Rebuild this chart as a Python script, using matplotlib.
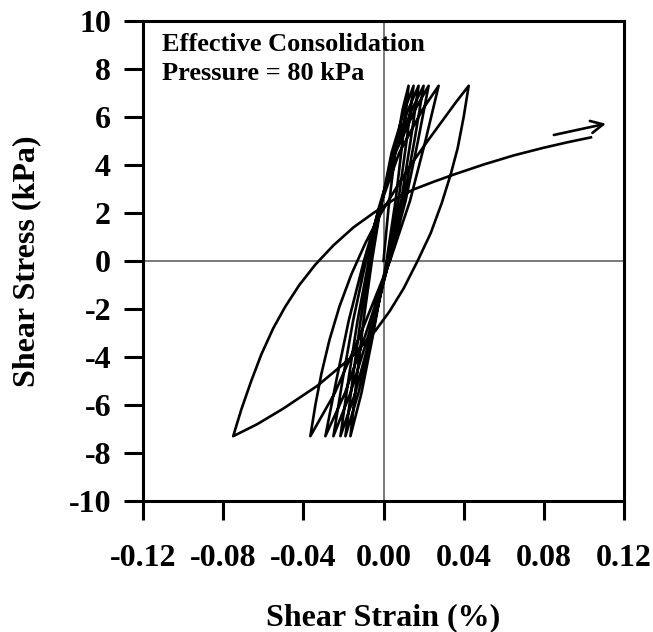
import numpy as np
import matplotlib.pyplot as plt

plt.rcParams['font.family'] = 'Liberation Serif'
plt.rcParams['font.weight'] = 'bold'
plt.rcParams['axes.unicode_minus'] = False

# stress levels (kPa) at which strains were read along each small branch
load_stress = [-7.3, -5.0, -2.5, 0.0, 2.2, 4.5, 6.3, 7.3]
unload_stress = [7.3, 5.0, 2.5, 0.0, -3.2, -5.5, -7.3]

# first loading from origin
first_stress = [0.0, 2.2, 4.5, 6.3, 7.3]
first_strain = [0.0, 0.0025, 0.0058, 0.0095, 0.0125]

# strains (%) of the small cycles
unload_strain = [
    [0.0125, 0.0095, 0.006, 0.0015, -0.0055, -0.011, -0.0165],
    [0.015, 0.0115, 0.0074, 0.0021, -0.0061, -0.0125, -0.019],
    [0.0175, 0.0135, 0.0088, 0.0027, -0.0067, -0.0141, -0.0215],
    [0.02, 0.0154, 0.0099, 0.0029, -0.0079, -0.0165, -0.025],
    [0.0225, 0.0172, 0.011, 0.003, -0.0095, -0.0192, -0.029],
    [0.0275, 0.0209, 0.0132, 0.0032, -0.0122, -0.0243, -0.0365],
]
load_strain = [
    [-0.0165, -0.0135, -0.010, -0.0058, -0.0015, 0.004, 0.0105, 0.015],
    [-0.019, -0.0155, -0.0115, -0.0066, -0.0016, 0.0048, 0.0123, 0.0175],
    [-0.0215, -0.0176, -0.013, -0.0074, -0.0017, 0.0055, 0.0141, 0.02],
    [-0.025, -0.0205, -0.0152, -0.0088, -0.0024, 0.0059, 0.0157, 0.0225],
    [-0.029, -0.0236, -0.0174, -0.0098, -0.0021, 0.0078, 0.0194, 0.0275],
]

# large cycle
big_load_strain = [-0.0365, -0.034, -0.031, -0.027, -0.022, -0.016, -0.009, -0.0015,
                   0.006, 0.014, 0.022, 0.029, 0.036, 0.0425]
big_load_stress = [-7.3, -6.0, -4.7, -3.3, -1.9, -0.55, 0.75, 1.95,
                   3.0, 4.05, 5.0, 5.8, 6.6, 7.3]
big_unload_strain = [0.0425, 0.040, 0.037, 0.0335, 0.029, 0.0235, 0.017, 0.01, 0.003,
                     -0.004, -0.0165, -0.033, -0.05, -0.063, -0.075]
big_unload_stress = [7.3, 6.0, 4.7, 3.6, 2.4, 1.15, 0.0, -1.15, -2.1,
                     -2.9, -4.05, -5.2, -6.15, -6.8, -7.3]

# last loading branch
final_strain = [-0.075, -0.071, -0.066, -0.061, -0.055, -0.049, -0.042, -0.034, -0.025,
                -0.015, -0.005, 0.005, 0.015, 0.025, 0.035, 0.05, 0.065, 0.08, 0.092, 0.1035]
final_stress = [-7.3, -6.2, -5.0, -3.9, -2.8, -1.9, -1.0, -0.15, 0.65,
                1.4, 2.0, 2.55, 2.98, 3.3, 3.6, 4.02, 4.4, 4.72, 4.95, 5.15]

arrow_start = (0.085, 5.25)
arrow_end = (0.111, 5.72)

# join everything into one path
xs = list(first_strain)
ys = list(first_stress)
for i in range(len(unload_strain)):
    xs += unload_strain[i]
    ys += unload_stress
    if i < len(load_strain):
        xs += load_strain[i]
        ys += load_stress
xs += big_load_strain + big_unload_strain + final_strain
ys += big_load_stress + big_unload_stress + final_stress

fig = plt.figure(figsize=(6.53, 6.32), dpi=100)
ax = fig.add_axes([0.219, 0.2073, 0.7366, 0.7595])

ax.axhline(0, color='#555555', lw=1.1, zorder=1)
ax.axvline(0, color='#555555', lw=1.1, zorder=1)
ax.plot(xs, ys, color='black', lw=1.9, solid_joinstyle='round', zorder=3)
ax.annotate('', xy=arrow_end, xytext=arrow_start,
            arrowprops=dict(arrowstyle='->', color='black', lw=1.9,
                            mutation_scale=22, shrinkA=0, shrinkB=0))

ax.set_xlim(-0.12, 0.12)
ax.set_ylim(-10, 10)
ax.set_xticks([-0.12, -0.08, -0.04, 0.0, 0.04, 0.08, 0.12])
ax.set_xticklabels(['-0.12', '-0.08', '-0.04', '0.00', '0.04', '0.08', '0.12'])
ax.set_yticks(range(-10, 11, 2))

for s in ax.spines.values():
    s.set_linewidth(2.2)
ax.tick_params(direction='out', length=14, width=2.2, labelsize=23)
ax.tick_params(axis='x', pad=17)
ax.tick_params(axis='y', pad=9)

ax.set_xlabel('Shear Strain (%)', fontsize=23, fontweight='bold', labelpad=22)
ax.set_ylabel('Shear Stress (kPa)', fontsize=23, fontweight='bold', labelpad=20)

ax.text(0.04, 0.975, 'Effective Consolidation\nPressure = 80 kPa', transform=ax.transAxes,
        ha='left', va='top', fontsize=19, fontweight='bold', linespacing=1.35)

plt.savefig('out.png', dpi=100)
